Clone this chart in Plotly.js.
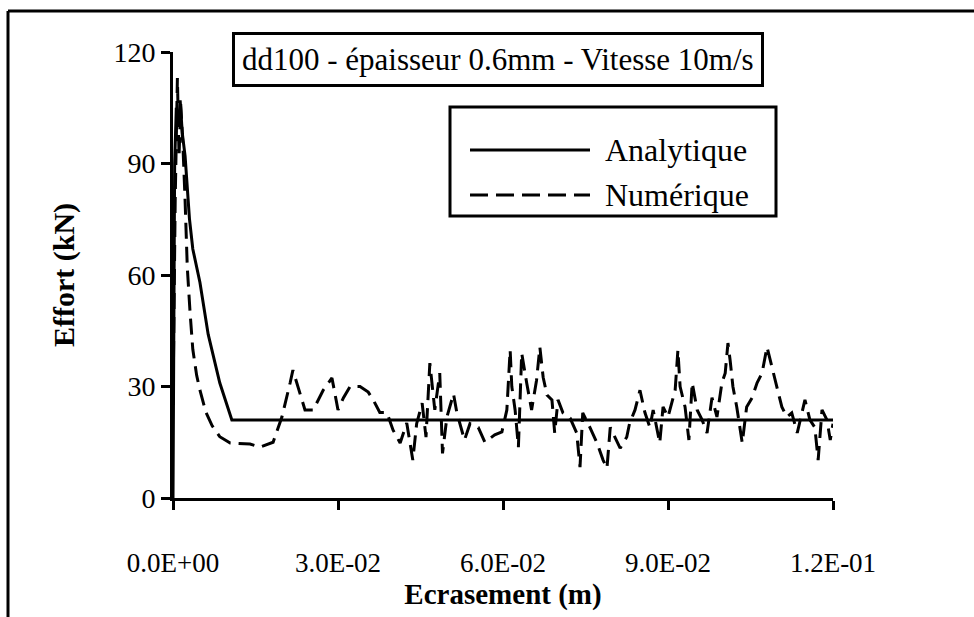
<!DOCTYPE html>
<html>
<head>
<meta charset="utf-8">
<script src="https://cdn.plot.ly/plotly-3.0.1.min.js"></script>
<style>html,body{margin:0;padding:0;background:#fff;}#chart{width:974px;height:617px;}</style>
</head>
<body>
<div id="chart"></div>
<script>
// ---- data ----
const anaX = [0, 0.0003, 0.0006, 0.001, 0.0013, 0.0017, 0.0022, 0.003, 0.0036, 0.0049, 0.0064, 0.0085, 0.0107, 0.12];
const anaY = [0, 90, 105, 100, 107, 98, 92, 75, 67, 58, 44, 31, 21, 21];

const numX = [0, 0.0004, 0.0008, 0.0011, 0.0014, 0.0018, 0.0022, 0.0026, 0.0031, 0.0036, 0.0043, 0.0049, 0.006, 0.0071, 0.0085, 0.0104, 0.014, 0.0158, 0.0182, 0.0198,
  0.0213, 0.0218, 0.024, 0.0255, 0.0273, 0.0289, 0.030, 0.031, 0.0322, 0.034, 0.0355, 0.0364, 0.0376, 0.0389, 0.040, 0.0413, 0.0425, 0.0436, 0.0443, 0.0453,
  0.046, 0.0467, 0.0476, 0.0485, 0.049, 0.0498, 0.051, 0.0516, 0.053, 0.054, 0.0555, 0.0567, 0.0585, 0.0598, 0.0607, 0.0613, 0.0616, 0.0622, 0.0628, 0.0634,
  0.0643, 0.0652, 0.0661, 0.0667, 0.0673, 0.068, 0.0689, 0.0694, 0.07, 0.0709, 0.0722, 0.0734, 0.074, 0.0745, 0.0758, 0.0771, 0.0782, 0.0789, 0.0795, 0.0804,
  0.0813, 0.0825, 0.083, 0.084, 0.0849, 0.0858, 0.0867, 0.0873, 0.0885, 0.0891, 0.09, 0.0913, 0.0918, 0.0922, 0.0931, 0.0938, 0.0944, 0.0953, 0.0962, 0.0971,
  0.098, 0.0989, 0.0998, 0.1004, 0.1009, 0.1013, 0.1018, 0.1025, 0.1035, 0.1043, 0.1053, 0.1062, 0.1071, 0.108, 0.1089, 0.1098, 0.1107, 0.1116, 0.1125, 0.1135,
  0.1144, 0.1149, 0.1158, 0.1167, 0.1173, 0.118, 0.1189, 0.1195, 0.12];
const numY = [25, 80, 113, 92, 106, 95, 80, 62, 50, 40, 33, 29, 23, 19.5, 16.5, 14.8, 14.5, 13.7, 15, 21.8,
  31, 34.4, 23.7, 23.7, 29, 32.3, 23.7, 27, 30, 30, 28.5, 26.4, 23, 23, 18.3, 14.8, 20.2, 10.2, 20, 25.5,
  16.4, 36.3, 23.7, 33.6, 12, 21.8, 28, 23, 15.6, 20, 19, 15, 17, 17.8, 23.7, 39.8, 30, 23.7, 13.7, 39,
  31, 23.7, 31.7, 40.6, 32.5, 27.7, 26.4, 17.5, 26.4, 22.9, 21.5, 17.5, 8.3, 22.9, 19, 14.8, 10.2, 8, 19, 16.4,
  13.4, 16.4, 20, 23.7, 29, 23, 19, 23.7, 14.8, 24.5, 21.8, 29, 39.8, 30, 24.5, 15.6, 31, 23.7, 21, 17.5,
  27, 21.8, 31, 33.6, 41.7, 37, 30, 24.5, 14.8, 24.5, 27, 31, 33.6, 40.6, 35.2, 30, 24.5, 21.8, 22.9, 17.5,
  22.9, 26.4, 21, 19, 10.2, 23.7, 21, 15.6, 20];

const xTickVals = [0, 0.03, 0.06, 0.09, 0.12];
const xTickText = ["0.0E+00", "3.0E-02", "6.0E-02", "9.0E-02", "1.2E-01"];
const yTickVals = [0, 30, 60, 90, 120];

const chartTitle = "dd100 - épaisseur 0.6mm - Vitesse 10m/s";
const xTitle = "Ecrasement (m)";
const yTitle = "Effort (kN)";
const seriesNames = ["Analytique", "Numérique"];

// ---- layout geometry ----
const W = 974, H = 617, L = 173, R = 141, T = 52, B = 119;
const PW = W - L - R, PH = H - T - B;
const px = v => (v - L) / PW;         // pixel x -> paper x
const py = v => (H - B - v) / PH;     // pixel y -> paper y

const FONT = "Liberation Serif, Times New Roman, serif";

const traces = [
  {x: anaX, y: anaY, name: seriesNames[0], type: 'scatter', mode: 'lines',
   line: {color: '#000', width: 3}, xaxis: 'x', yaxis: 'y'},
  {x: numX, y: numY, name: seriesNames[1], type: 'scatter', mode: 'lines',
   line: {color: '#000', width: 3, dash: '16px,8px'}, xaxis: 'x', yaxis: 'y'}
];

const axisCommon = {showgrid: false, zeroline: false, linecolor: '#000', linewidth: 3,
  tickcolor: '#000', tickwidth: 3, ticklen: 9, ticks: 'outside', fixedrange: true};

const layout = {
  width: W, height: H,
  margin: {l: L, r: R, t: T, b: B},
  paper_bgcolor: '#fff', plot_bgcolor: '#fff',
  showlegend: false,
  font: {family: FONT, color: '#000', size: 27},
  xaxis: Object.assign({}, axisCommon, {
    range: [0, 0.12], tickvals: xTickVals, ticktext: xTickText, showline: true,
    tickfont: {family: FONT, size: 27, color: '#000'}, ticklabelstandoff: 30,
    title: {text: xTitle, font: {family: FONT, size: 29, color: '#000', weight: 700}, standoff: 0}
  }),
  yaxis: Object.assign({}, axisCommon, {
    range: [0, 120], tickvals: yTickVals, showline: true,
    tickfont: {family: FONT, size: 28, color: '#000'}, ticklabelstandoff: 0,
    title: {text: yTitle, font: {family: FONT, size: 30, color: '#000', weight: 700}, standoff: 30}
  }),
  xaxis2: Object.assign({}, axisCommon, {
    overlaying: 'x', anchor: 'y', side: 'bottom', range: [0, 0.12], tickvals: xTickVals,
    ticks: 'inside', showticklabels: false, showline: false
  }),
  yaxis2: Object.assign({}, axisCommon, {
    overlaying: 'y', anchor: 'x', side: 'left', range: [0, 120], tickvals: yTickVals,
    ticks: 'inside', showticklabels: false, showline: false
  }),
  annotations: [
    {xref: 'paper', yref: 'paper', x: px(497.5), y: py(59), xanchor: 'center', yanchor: 'middle',
     text: chartTitle, showarrow: false, font: {family: FONT, size: 31, color: '#000'},
     bordercolor: '#000', borderwidth: 3, borderpad: 7, bgcolor: '#fff'},
    {xref: 'paper', yref: 'paper', x: px(603), y: py(150), xanchor: 'left', yanchor: 'middle',
     text: seriesNames[0], showarrow: false, font: {family: FONT, size: 32, color: '#000'}},
    {xref: 'paper', yref: 'paper', x: px(603), y: py(195), xanchor: 'left', yanchor: 'middle',
     text: seriesNames[1], showarrow: false, font: {family: FONT, size: 32, color: '#000'}}
  ],
  shapes: [
    // outer frame (top and left edges)
    {type: 'line', xref: 'paper', yref: 'paper', x0: px(8), x1: px(974), y0: py(11), y1: py(11), line: {color: '#000', width: 3}},
    {type: 'line', xref: 'paper', yref: 'paper', x0: px(8), x1: px(8), y0: py(11), y1: py(617), line: {color: '#000', width: 3}},
    // legend box
    {type: 'rect', xref: 'paper', yref: 'paper', x0: px(450), x1: px(776), y0: py(107), y1: py(216), line: {color: '#000', width: 3}, fillcolor: 'rgba(0,0,0,0)'},
    // legend samples
    {type: 'line', xref: 'paper', yref: 'paper', x0: px(470), x1: px(590), y0: py(150), y1: py(150), line: {color: '#000', width: 3}},
    {type: 'line', xref: 'paper', yref: 'paper', x0: px(470), x1: px(590), y0: py(195), y1: py(195), line: {color: '#000', width: 3, dash: '18px,8px'}}
  ]
};

Plotly.newPlot('chart', traces, layout, {displayModeBar: false, staticPlot: true});
</script>
</body>
</html>
